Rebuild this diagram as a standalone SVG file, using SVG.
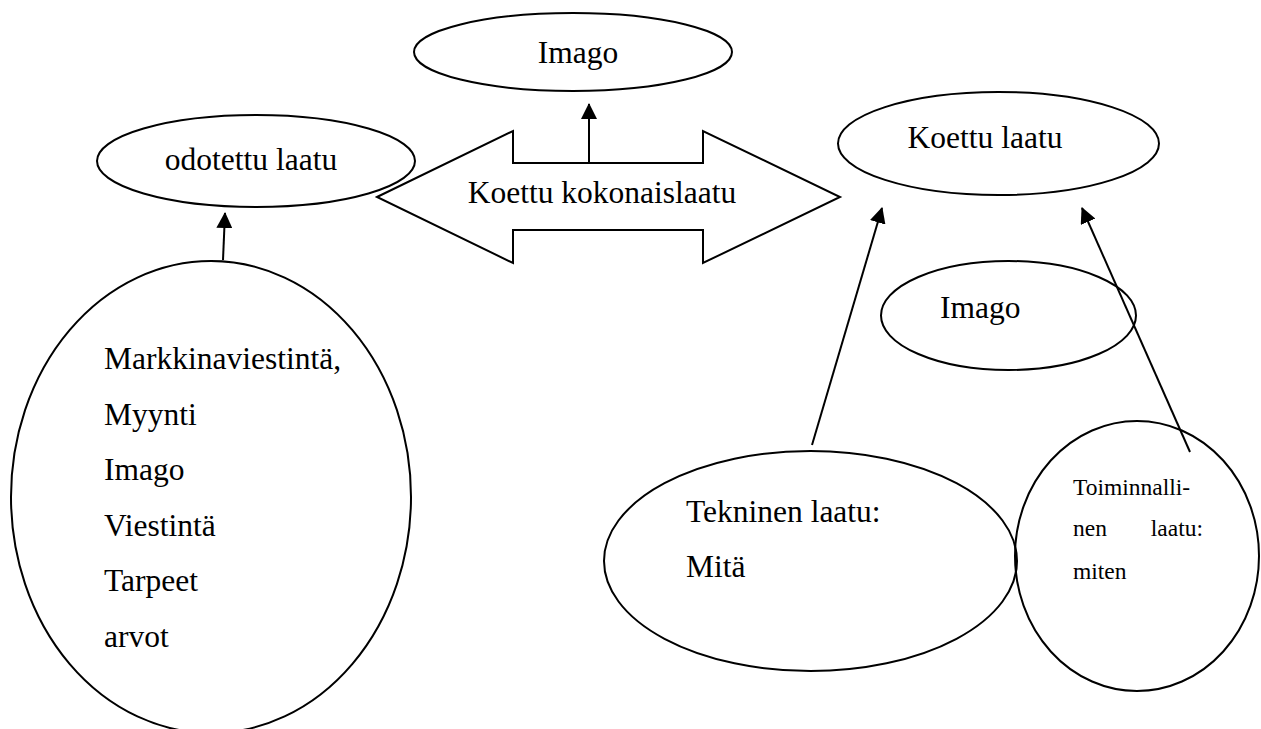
<svg xmlns="http://www.w3.org/2000/svg" width="1261" height="729" viewBox="0 0 1261 729">
<style>
.shape{fill:none;stroke:#000;stroke-width:2}
.conn{fill:none;stroke:#000;stroke-width:2}
.t{font-family:"Liberation Serif","Times New Roman",serif;font-size:31.5px;fill:#000}
.s{font-family:"Liberation Serif","Times New Roman",serif;font-size:23.5px;fill:#000}
</style>
<defs>
<marker id="ah" markerUnits="userSpaceOnUse" markerWidth="16" markerHeight="16" viewBox="0 0 16 16" refX="15" refY="8" orient="auto">
<path d="M0,0 L16,8 L0,16 Z" fill="#000"/>
</marker>
</defs>
<rect width="1261" height="729" fill="#fff"/>
<g id="node-imago-top">
<ellipse class="shape" cx="573" cy="52" rx="159" ry="39"/>
<text class="t" x="578" y="63" text-anchor="middle">Imago</text>
</g>
<g id="node-kokonaislaatu">
<polygon class="shape" points="377,197 513,131 513,163 703,163 703,131 840,197 703,263 703,230 513,230 513,263"/>
<text class="t" x="602" y="203" text-anchor="middle">Koettu kokonaislaatu</text>
</g>
<g id="node-odotettu">
<ellipse class="shape" cx="256" cy="161" rx="159" ry="46"/>
<text class="t" x="251" y="170" text-anchor="middle">odotettu laatu</text>
</g>
<g id="node-koettu">
<ellipse class="shape" cx="998.5" cy="143.5" rx="160.5" ry="51.5"/>
<text class="t" x="985" y="148" text-anchor="middle">Koettu laatu</text>
</g>
<g id="node-imago-right">
<ellipse class="shape" cx="1008.5" cy="315.5" rx="127.5" ry="54.5"/>
<text class="t" x="940" y="318">Imago</text>
</g>
<g id="node-markkina">
<ellipse class="shape" cx="211" cy="497" rx="200" ry="236"/>
<text class="t" x="104" y="369">Markkinaviestintä,</text>
<text class="t" x="104" y="425">Myynti</text>
<text class="t" x="104" y="480">Imago</text>
<text class="t" x="104" y="536">Viestintä</text>
<text class="t" x="104" y="591">Tarpeet</text>
<text class="t" x="104" y="647">arvot</text>
</g>
<g id="node-tekninen">
<ellipse class="shape" cx="810.5" cy="561" rx="206.5" ry="110"/>
<text class="t" x="686" y="522">Tekninen laatu:</text>
<text class="t" x="686" y="577">Mitä</text>
</g>
<g id="node-toiminnallinen">
<ellipse class="shape" cx="1137" cy="556" rx="122" ry="135"/>
<text class="s" x="1073" y="495">Toiminnalli-</text>
<text class="s" x="1073" y="536">nen</text>
<text class="s" x="1203" y="536" text-anchor="end">laatu:</text>
<text class="s" x="1073" y="579">miten</text>
</g>
<g id="connectors">
<line class="conn" x1="589" y1="163" x2="589" y2="104" marker-end="url(#ah)"/>
<line class="conn" x1="223" y1="260" x2="225" y2="213" marker-end="url(#ah)"/>
<line class="conn" x1="812" y1="445" x2="882" y2="208" marker-end="url(#ah)"/>
<line class="conn" x1="1190" y1="452" x2="1082" y2="208" marker-end="url(#ah)"/>
</g>
</svg>
